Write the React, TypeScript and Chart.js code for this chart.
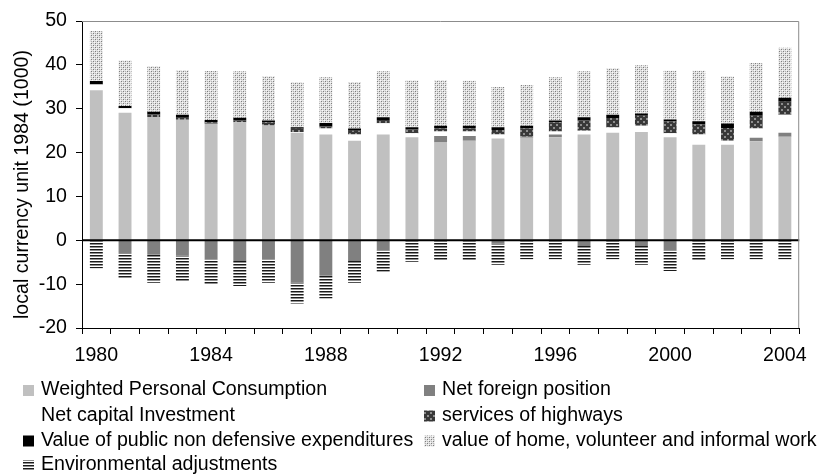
import React, { useEffect, useRef } from 'react';
import { Chart, registerables } from 'chart.js';

Chart.register(...registerables);

const years = [1980, 1981, 1982, 1983, 1984, 1985, 1986, 1987, 1988, 1989, 1990, 1991, 1992, 1993, 1994, 1995, 1996, 1997, 1998, 1999, 2000, 2001, 2002, 2003, 2004];
const labeledYears = [1980, 1984, 1988, 1992, 1996, 2000, 2004];

const consumption = [34.2, 29.1, 28.1, 27.5, 26.6, 26.9, 26.2, 24.5, 24.1, 22.7, 24.1, 23.5, 22.3, 22.7, 23.2, 23.4, 23.5, 24.1, 24.5, 24.7, 23.5, 21.8, 21.8, 22.6, 23.6];
const netForeign = [0, -2.9, -3.3, -3.5, -4.3, -4.7, -4.3, -9.7, -8.1, -4.7, -2.4, 0, 1.5, 1.1, -0.8, 0.2, 0.6, -1.3, 0, -1.3, -2.4, 0, 0, 0.8, 0.9];
const netCapital = [1.3, 1.0, 0, 0, 0, 0, 0, 0.2, 1.4, 1.4, 2.6, 0.9, 1.0, 1.0, 0.9, 0, 0.7, 0.9, 1.2, 1.4, 0.9, 2.3, 0.9, 2.1, 4.1];
const highways = [0, 0, 0.6, 0.6, 0.3, 0.45, 0.7, 0.75, 0.5, 0.9, 0.75, 0.9, 0.7, 0.7, 1.05, 1.9, 2.1, 2.3, 2.2, 2.3, 2.7, 2.3, 2.9, 2.9, 3.0];
const publicExp = [0.8, 0.5, 0.6, 0.55, 0.5, 0.6, 0.4, 0.3, 0.75, 0.5, 0.6, 0.45, 0.6, 0.6, 0.6, 0.6, 0.4, 0.75, 0.7, 0.5, 0.45, 0.75, 1.05, 0.9, 0.9];
const homeWork = [11.4, 10.4, 10.4, 10.1, 11.2, 10.6, 10.1, 10.3, 10.4, 10.6, 10.5, 10.7, 10.4, 10.3, 9.2, 9.3, 9.9, 10.5, 10.6, 11.0, 11.1, 11.5, 10.7, 11.1, 11.4];
const environmental = [-6.4, -5.8, -6.4, -5.8, -5.7, -5.7, -5.4, -4.7, -5.2, -5.0, -4.8, -4.9, -4.6, -4.6, -4.8, -4.3, -4.3, -4.3, -4.3, -4.3, -4.6, -4.6, -4.3, -4.3, -4.3];

const yMin = -20;
const yMax = 50;
const yStep = 10;

const axisTitle = 'local currency unit 1984 (1000)';
const seriesNames = [
  'Weighted Personal Consumption',
  'Net foreign position',
  'Net capital Investment',
  'services of highways',
  'Value of public non defensive expenditures',
  'value of home, volunteer and informal work',
  'Environmental adjustments',
];

const FONT_FAMILY = '"Liberation Sans", Arial, sans-serif';
const FONT_SIZE = 19.6;

function makePattern(w: number, h: number, draw: (g: CanvasRenderingContext2D) => void) {
  const c = document.createElement('canvas');
  c.width = w;
  c.height = h;
  const g = c.getContext('2d')!;
  draw(g);
  return g.createPattern(c, 'repeat')!;
}

export default function App() {
  const ref = useRef<HTMLCanvasElement | null>(null);

  useEffect(() => {
    const canvas = ref.current;
    if (!canvas) return;

    const highwayPat = makePattern(6, 6, (g) => {
      g.fillStyle = '#383838';
      g.fillRect(0, 0, 6, 6);
      g.fillStyle = '#8e8e8e';
      g.fillRect(1, 1, 2, 2);
      g.fillRect(4, 4, 2, 2);
    });
    const homePat = makePattern(4, 4, (g) => {
      g.fillStyle = '#e2e2e2';
      g.fillRect(0, 0, 4, 4);
      g.fillStyle = '#7c7c7c';
      g.fillRect(1, 1, 1, 1);
      g.fillRect(3, 3, 1, 1);
      g.fillStyle = '#b0b0b0';
      g.fillRect(1, 3, 1, 1);
      g.fillRect(3, 1, 1, 1);
      g.fillStyle = '#f8f8f8';
      g.fillRect(0, 0, 1, 1);
      g.fillRect(2, 2, 1, 1);
    });
    const envPat = makePattern(4, 3, (g) => {
      g.fillStyle = '#ffffff';
      g.fillRect(0, 0, 4, 3);
      g.fillStyle = '#1a1a1a';
      g.fillRect(0, 0, 4, 1);
      g.fillStyle = '#8e8e8e';
      g.fillRect(0, 1, 4, 1);
    });

    const fills: (string | CanvasPattern)[] = ['#c0c0c0', '#808080', '#ffffff', highwayPat, '#000000', homePat, envPat];
    const seriesData = [consumption, netForeign, netCapital, highways, publicExp, homeWork, environmental];

    const decorPlugin = {
      id: 'decor',
      afterDatasetsDraw(chart: any) {
        const { ctx, chartArea, scales } = chart;
        const y0 = scales.y.getPixelForValue(0);
        ctx.save();
        ctx.strokeStyle = '#000';
        ctx.lineWidth = 2;
        ctx.beginPath();
        ctx.moveTo(chartArea.left, y0);
        ctx.lineTo(chartArea.right, y0);
        ctx.stroke();
        ctx.restore();
      },
      afterDraw(chart: any) {
        const { ctx, chartArea } = chart;
        ctx.save();
        ctx.strokeStyle = '#8c8c8c';
        ctx.lineWidth = 1;
        ctx.beginPath();
        ctx.moveTo(chartArea.left, chartArea.top + 0.5);
        ctx.lineTo(chartArea.right - 0.5, chartArea.top + 0.5);
        ctx.lineTo(chartArea.right - 0.5, chartArea.bottom);
        ctx.stroke();

        ctx.fillStyle = '#000';
        ctx.font = `${FONT_SIZE}px ${FONT_FAMILY}`;
        ctx.save();
        ctx.translate(28, (chartArea.top + chartArea.bottom) / 2 + 10);
        ctx.rotate(-Math.PI / 2);
        ctx.textAlign = 'center';
        ctx.textBaseline = 'alphabetic';
        ctx.fillText(axisTitle, 0, 0);
        ctx.restore();

        const cols = [23, 424];
        const rows = [395, 420.5, 445.5, 470];
        ctx.textAlign = 'left';
        ctx.textBaseline = 'alphabetic';
        seriesNames.forEach((name, i) => {
          const cx = cols[i % 2];
          const by = rows[Math.floor(i / 2)];
          const size = 11;
          ctx.fillStyle = fills[i] as any;
          ctx.fillRect(cx, by - 10, size, size);
          ctx.fillStyle = '#000';
          ctx.fillText(name, cx + 18, by);
        });
        ctx.restore();
      },
    };

    const font = { family: FONT_FAMILY, size: FONT_SIZE };

    const chart = new Chart(canvas, {
      type: 'bar',
      data: {
        labels: years.map(String),
        datasets: seriesNames.map((name, i) => ({
          label: name,
          data: seriesData[i],
          backgroundColor: fills[i] as any,
          borderWidth: 0,
          stack: 's',
        })),
      },
      options: {
        animation: false,
        responsive: false,
        events: [],
        layout: { padding: { top: 21, right: 17, left: 0, bottom: 0 } },
        datasets: { bar: { categoryPercentage: 1, barPercentage: 0.45 } },
        plugins: { legend: { display: false }, tooltip: { enabled: false } },
        scales: {
          x: {
            stacked: true,
            offset: true,
            grid: { offset: true, drawOnChartArea: false, tickLength: 6, color: '#000', tickColor: '#000' },
            border: { color: '#000', width: 1 },
            ticks: {
              autoSkip: false,
              maxRotation: 0,
              minRotation: 0,
              padding: 10,
              color: '#000',
              font,
              callback: (_v: any, i: number) => (labeledYears.includes(years[i]) ? String(years[i]) : ''),
            },
            afterFit: (s: any) => {
              s.height = 146;
            },
          },
          y: {
            stacked: true,
            min: yMin,
            max: yMax,
            ticks: { stepSize: yStep, padding: 9, color: '#000', font },
            grid: { drawOnChartArea: false, tickLength: 6, color: '#000', tickColor: '#000' },
            border: { color: '#000', width: 1 },
            afterFit: (s: any) => {
              s.width = 82;
            },
          },
        },
      },
      plugins: [decorPlugin],
    } as any);

    return () => chart.destroy();
  }, []);

  return (
    <div style={{ position: 'fixed', left: 0, top: 0, width: 817, height: 474, background: '#fff' }}>
      <canvas ref={ref} width={817} height={474} style={{ display: 'block', width: 817, height: 474 }} />
    </div>
  );
}
